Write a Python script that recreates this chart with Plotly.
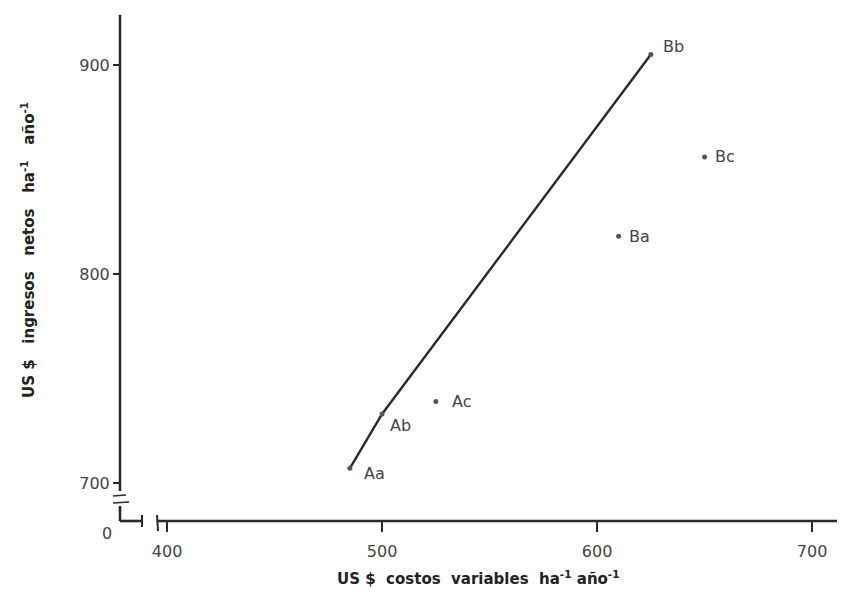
import plotly.graph_objects as go

# ---- data ----
treatments = ["Aa", "Ab", "Ac", "Ba", "Bb", "Bc"]
costos = [485, 500, 525, 610, 625, 650]        # US$ costos variables ha-1 año-1
ingresos = [707, 733, 739, 818, 905, 856]      # US$ ingresos netos ha-1 año-1
line_path = ["Aa", "Ab", "Bb"]                 # treatments joined by the curve

x_ticks = [400, 500, 600, 700]
y_ticks = [700, 800, 900]

# ---- layout constants (page has an 8px body margin) ----
OFF = 8
W, H = 845 - OFF, 603 - OFF
L, R, T, B = 120 - OFF, 0, 15 - OFF, 82
PW, PH = W - L - R, H - T - B
X_RANGE = [378.1, 715.3]
Y_RANGE = [681.8, 923.9]
INK = "#2a2a2a"
TXT = "#444444"
FONT = "DejaVu Sans"


def px(xp):
    """reference-picture x pixel -> paper fraction"""
    return (xp - OFF - L) / PW


def py(yp):
    """reference-picture y pixel -> paper fraction"""
    return (H + OFF - B - yp) / PH


idx = {t: i for i, t in enumerate(treatments)}
lx = [costos[idx[t]] for t in line_path]
ly = [ingresos[idx[t]] for t in line_path]

fig = go.Figure()
fig.add_trace(go.Scatter(x=lx, y=ly, mode="lines",
                         line=dict(color=INK, width=2.4),
                         hoverinfo="skip", showlegend=False))
fig.add_trace(go.Scatter(x=costos, y=ingresos, mode="markers",
                         marker=dict(color="#555555", size=5),
                         text=treatments, showlegend=False))

# point labels
offsets = {"Aa": (12, -5), "Ab": (6, -12), "Ac": (14, 0),
           "Ba": (8, 0), "Bb": (10, 8), "Bc": (8, 0)}
for t, xv, yv in zip(treatments, costos, ingresos):
    dx, dy = offsets[t]
    fig.add_annotation(x=xv, y=yv, text=t, showarrow=False,
                       xanchor="left", yanchor="middle",
                       xshift=dx, yshift=dy,
                       font=dict(family=FONT, size=16, color=TXT))

# axis lines with breaks (decoration, in paper coordinates)
shp = []
ln = dict(color=INK, width=2.6)
shp.append(dict(type="line", xref="paper", yref="paper",
                x0=0, x1=0, y0=py(491), y1=1.0, line=ln))
shp.append(dict(type="line", xref="paper", yref="paper",
                x0=px(113), x1=px(126), y0=py(496), y1=py(495),
                line=dict(color=INK, width=1.6)))
shp.append(dict(type="line", xref="paper", yref="paper",
                x0=px(113), x1=px(129), y0=py(503), y1=py(502),
                line=dict(color=INK, width=1.6)))
shp.append(dict(type="line", xref="paper", yref="paper",
                x0=0, x1=0, y0=0, y1=py(506), line=ln))
shp.append(dict(type="line", xref="paper", yref="paper",
                x0=0, x1=px(142), y0=0, y1=0, line=ln))
shp.append(dict(type="line", xref="paper", yref="paper",
                x0=px(142), x1=px(142), y0=py(515), y1=py(527),
                line=dict(color=INK, width=2)))
shp.append(dict(type="line", xref="paper", yref="paper",
                x0=px(157), x1=px(158), y0=py(515), y1=py(531),
                line=dict(color=INK, width=2)))
shp.append(dict(type="line", xref="paper", yref="paper",
                x0=px(157), x1=1.0, y0=0, y1=0, line=ln))
fig.update_layout(shapes=shp)

# corner zero label
fig.add_annotation(xref="paper", yref="paper", x=px(107), y=py(533),
                   text="0", showarrow=False, xanchor="center",
                   yanchor="middle",
                   font=dict(family=FONT, size=16, color=TXT))

# axis titles
fig.add_annotation(xref="paper", yref="paper", x=px(478), y=py(578),
                   text="US $  costos  variables  ha<sup>-1</sup> año<sup>-1</sup>",
                   showarrow=False, xanchor="center", yanchor="middle",
                   font=dict(family=FONT, size=15, color="#222222",
                             weight="bold"))
fig.add_annotation(xref="paper", yref="paper", x=px(28), y=py(250),
                   text="US $   ingresos   netos   ha<sup>-1</sup>   año<sup>-1</sup>",
                   showarrow=False, textangle=-90,
                   xanchor="center", yanchor="middle",
                   font=dict(family=FONT, size=15, color="#222222",
                             weight="bold"))

fig.update_xaxes(range=X_RANGE, tickvals=x_ticks,
                 ticktext=[str(v) for v in x_ticks],
                 showgrid=False, zeroline=False, showline=False,
                 ticks="outside", ticklen=10, tickwidth=2, tickcolor=INK,
                 ticklabelstandoff=6,
                 tickfont=dict(family=FONT, size=16, color=TXT))
fig.update_yaxes(range=Y_RANGE, tickvals=y_ticks,
                 ticktext=[str(v) for v in y_ticks],
                 showgrid=False, zeroline=False, showline=False,
                 ticks="outside", ticklen=6, tickwidth=2, tickcolor=INK,
                 tickfont=dict(family=FONT, size=16, color=TXT))

fig.update_layout(width=W, height=H,
                  margin=dict(l=L, r=R, t=T, b=B, pad=0),
                  paper_bgcolor="white", plot_bgcolor="white")

fig.write_html("out.html")
